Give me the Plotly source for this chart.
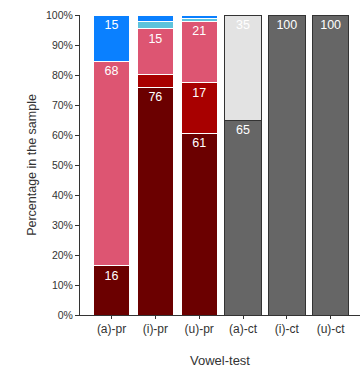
import plotly.graph_objects as go

# Vowel-test categories
categories = ["(a)-pr", "(i)-pr", "(u)-pr", "(a)-ct", "(i)-ct", "(u)-ct"]

# Percentage of each response type per vowel-test (stacked bottom to top)
dark_red = [16.4, 75.9, 60.6, None, None, None]
red = [None, 4.3, 16.8, None, None, None]
pink = [68.2, 15.2, 20.6, None, None, None]
light_blue = [None, 2.6, 1.0, None, None, None]
blue = [15.4, 2.0, 1.0, None, None, None]
gray = [None, None, None, 65.0, 100.0, 100.0]
light_gray = [None, None, None, 35.0, None, None]

y_ticks = [0, 10, 20, 30, 40, 50, 60, 70, 80, 90, 100]
y_tick_labels = [f"{t}%" for t in y_ticks]

series = [
    (dark_red, "#6b0000", "white"),
    (red, "#a80000", "white"),
    (pink, "#dd5572", "white"),
    (light_blue, "#5ec3dc", "white"),
    (blue, "#0a80ff", "white"),
    (gray, "#666666", "#333333"),
    (light_gray, "#e3e3e3", "#333333"),
]


def labels(values):
    # only segments of 10% or more carry a value label
    return [f"{v:.0f}" if v is not None and v >= 10 else "" for v in values]


fig = go.Figure()
for values, color, edge in series:
    fig.add_trace(go.Bar(
        x=categories,
        y=values,
        marker=dict(color=color, line=dict(color=edge, width=1)),
        text=labels(values),
        textposition="inside",
        insidetextanchor="end",
        textangle=0,
        textfont=dict(color="white", size=12.5, family="Liberation Sans, Arial, sans-serif"),
        cliponaxis=False,
        showlegend=False,
    ))

fig.update_layout(
    width=360,
    height=372,
    barmode="stack",
    bargap=0.17,
    plot_bgcolor="white",
    paper_bgcolor="white",
    margin=dict(l=80, r=0, t=15, b=57),
    font=dict(family="Liberation Sans, Arial, sans-serif", color="#333333"),
    uniformtext=dict(minsize=8, mode="show"),
)

fig.update_xaxes(
    range=[-0.72, 5.67],
    showline=True,
    linecolor="#333333",
    linewidth=1,
    ticks="outside",
    ticklen=3,
    tickcolor="#333333",
    tickfont=dict(size=12, color="#333333"),
    title=dict(text="Vowel-test", font=dict(size=13, color="#333333"), standoff=20),
    showgrid=False,
    zeroline=False,
)

fig.update_yaxes(
    range=[0, 100],
    tickvals=y_ticks,
    ticktext=y_tick_labels,
    showline=True,
    linecolor="#333333",
    linewidth=1,
    ticks="outside",
    ticklen=4,
    tickcolor="#333333",
    tickfont=dict(size=10.5, color="#333333"),
    title=dict(text="Percentage in the sample", font=dict(size=12.5, color="#333333"), standoff=6),
    showgrid=False,
    zeroline=False,
)

fig.write_html("out.html")
